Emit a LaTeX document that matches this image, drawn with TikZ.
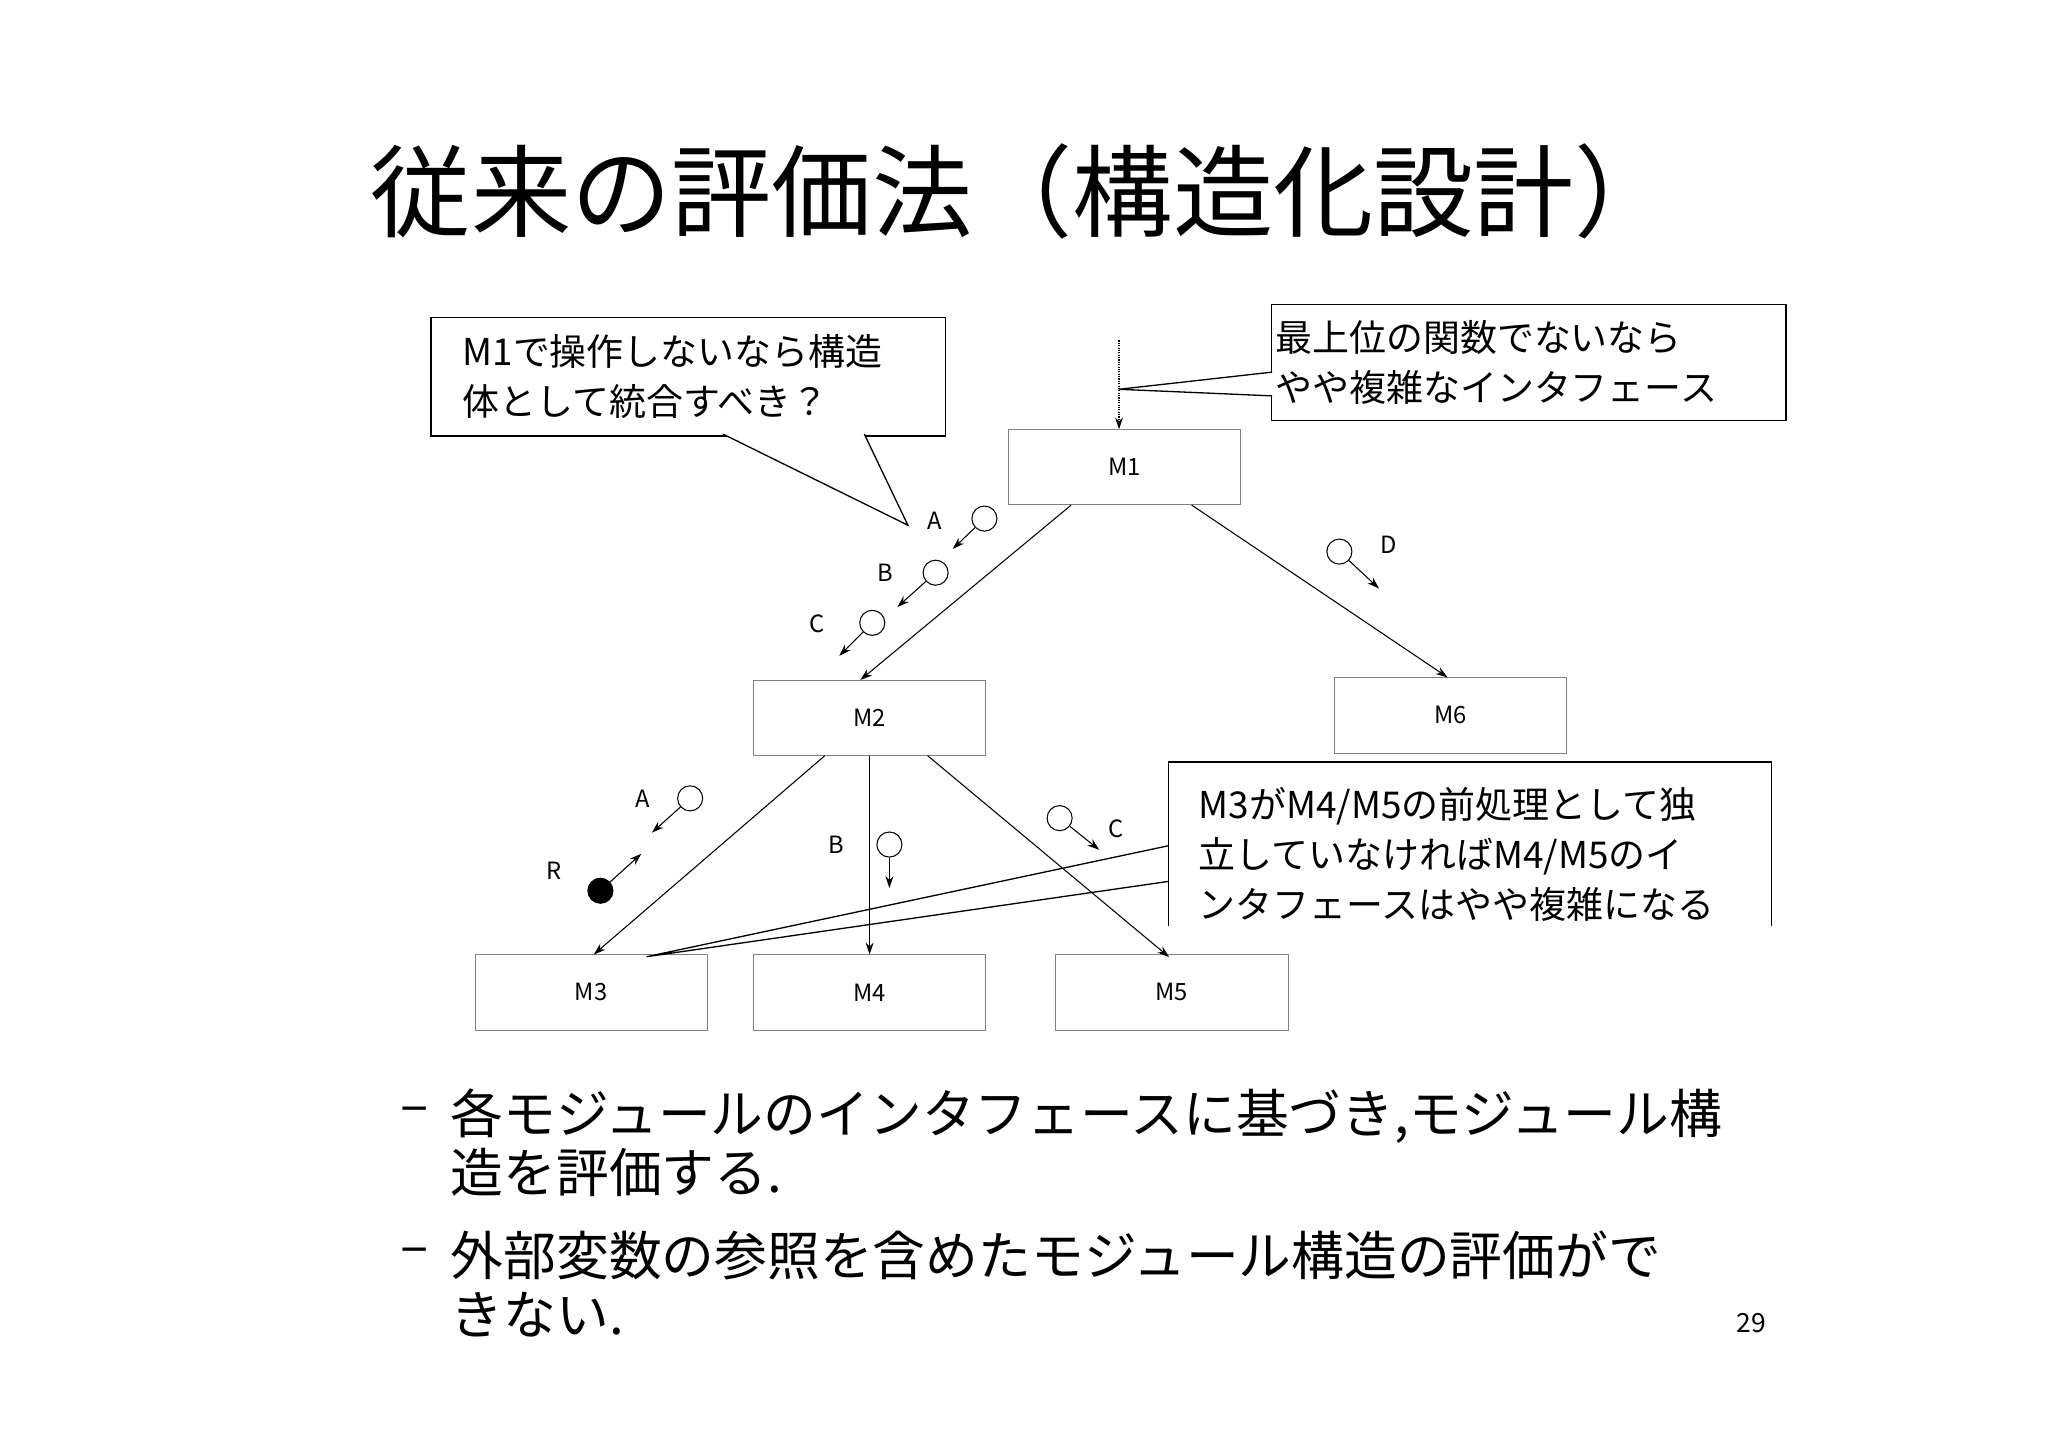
\documentclass[tikz,border=0pt]{standalone}
\usepackage{fontspec}
\setmainfont{Liberation Serif}
\newfontfamily\cjk{Noto Sans CJK JP}
\usetikzlibrary{arrows.meta}
\begin{document}
\begin{tikzpicture}[x=1pt,y=-1pt,
 mbox/.style={draw=gray,minimum width=176pt,minimum height=57pt,inner sep=0pt,font=\cjk\fontsize{18}{20}\selectfont},
 arr/.style={-{Stealth[length=9pt,width=6pt]},line width=0.8pt},
 dat/.style={circle,draw,line width=0.8pt,minimum size=19pt,inner sep=0pt},
 lab/.style={font=\cjk\fontsize{18}{20}\selectfont},
 call/.style={draw,line width=1pt,fill=white,align=left,anchor=north west,inner xsep=3pt,inner ysep=6pt,font=\cjk\fontsize{28}{38}\selectfont},
 body/.style={anchor=west,align=left,font=\cjk\fontsize{40}{45}\selectfont}]
\useasboundingbox (0,0) rectangle (1552,1097);
\node[font=\cjk\fontsize{76}{84}\selectfont] (title) at (775,145) {従来の評価法（構造化設計）};
\node[mbox] (M1) at (852,354) {M1};
\node[mbox] (M2) at (659,544) {M2};
\node[mbox] (M6) at (1099,542) {M6};
\node[mbox] (M3) at (448,752) {M3};
\node[mbox] (M4) at (659,752) {M4};
\node[mbox] (M5) at (888,752) {M5};
\draw[arr] (M1.south west)++(48,0) -- ([xshift=-7pt]M2.north);
\draw[arr] (M1.south)++(51,0) -- ([xshift=-2pt]M6.north);
\draw[arr] ([xshift=-34pt]M2.south) -- ([xshift=2pt]M3.north);
\draw[arr] (M2.south) -- (M4.north);
\draw[arr] ([xshift=44pt]M2.south) -- ([xshift=-2pt,yshift=-2pt]M5.north);
\coordinate (top) at (848,258);
\draw[arr,densely dotted] (top) -- (M1.north -| top);
\node[dat] (a1) at (746,393) {}; \coordinate (a1e) at (722,416); \draw[arr] (a1) -- (a1e); \node[lab] (la1) at (708,395) {A};
\node[dat] (b1) at (709,434) {}; \coordinate (b1e) at (680,460); \draw[arr] (b1) -- (b1e); \node[lab] (lb1) at (671,434) {B};
\node[dat] (c1) at (661,472) {}; \coordinate (c1e) at (636,497); \draw[arr] (c1) -- (c1e); \node[lab] (lc1) at (619,473) {C};
\node[dat] (d1) at (1015,418) {}; \coordinate (d1e) at (1045,446); \draw[arr] (d1) -- (d1e); \node[lab] (ld1) at (1052,413) {D};
\node[dat] (a2) at (523,605) {}; \coordinate (a2e) at (494,631); \draw[arr] (a2) -- (a2e); \node[lab] (la2) at (487,605) {A};
\node[dat,fill=black] (r2) at (455,675) {}; \coordinate (r2e) at (486,647); \draw[arr] (r2) -- (r2e); \node[lab] (lr2) at (420,660) {R};
\node[dat] (b2) at (674,640) {}; \coordinate (b2e) at (674,673); \draw[arr] (b2) -- (b2e); \node[lab] (lb2) at (634,640) {B};
\node[dat] (c2) at (803,620) {}; \coordinate (c2e) at (833,644); \draw[arr] (c2) -- (c2e); \node[lab] (lc2) at (846,628) {C};
\node[call,text width=382pt,minimum height=90pt,inner xsep=4pt] (cl) at (326,240) {\hspace*{20pt}M1{\cjk で操作しないなら構造}\\\hspace*{20pt}{\cjk 体として統合すべき？}};
\coordinate (clt) at (688,398);
\draw[line width=1pt,fill=white] (548,329) -- (clt) -- (655,329);
\node[call,text width=384pt,minimum height=88pt,inner ysep=2pt] (cr) at (963,230) {最上位の関数でないなら\\やや複雑なインタフェース};
\draw[line width=1pt,fill=white] (964,282) -- (top |- 0,295) -- (964,300);
\begin{scope}
\clip (884,576) rectangle (1344,701);
\node[call,text width=451pt,minimum height=140pt,inner ysep=2pt] (cb) at (885,577) {\hspace*{20pt}M3{\cjk がM4/M5の前処理として独}\\\hspace*{20pt}{\cjk 立していなければ}M4/M5{\cjk のイ}\\\hspace*{20pt}{\cjk ンタフェースはやや複雑になる}};
\end{scope}
\coordinate (cbt) at (490,725);
\draw[line width=1pt] (885,641) -- (cbt) -- (885,668);
\node[body] (d1) at (300,845) {–};
\node[body] (t1) at (338,866) {各モジュールのインタフェースに基づき,モジュール構\\造を評価する.};
\node[body] (d2) at (300,952) {–};
\node[body] (t2) at (338,973) {外部変数の参照を含めたモジュール構造の評価がで\\きない.};
\node[font=\cjk\fontsize{20}{22}\selectfont] (pg) at (1327,1003) {29};
\end{tikzpicture}
\end{document}
